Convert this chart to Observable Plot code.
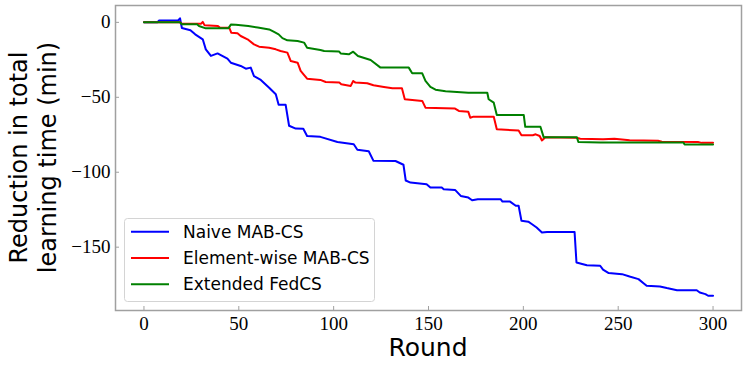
<!DOCTYPE html>
<html><head><meta charset="utf-8">
<script src="https://cdn.jsdelivr.net/npm/d3@7"></script>
<script src="https://cdn.jsdelivr.net/npm/@observablehq/plot@0.6"></script>
<style>body{margin:0;background:#fff}</style>
</head><body><div id="chart"></div>
<script>
const seriesNames = ["Naive MAB-CS", "Element-wise MAB-CS", "Extended FedCS"];
const seriesColors = ["#0000ff", "#ff0000", "#008000"];

const naive = [[0,0],[7,0],[8,1.3],[18,1.3],[19,2.7],[20,-3.8],[24.5,-5.2],[27,-8],[31,-11.3],[32.6,-18],[35.3,-22.4],[38.8,-20.7],[44,-24.2],[45.8,-26.9],[51,-29.1],[53.7,-30.9],[56.3,-30.2],[58,-35.8],[61.6,-38.4],[66,-43.6],[69.5,-48],[71,-55],[74.7,-55],[76.5,-69],[80,-70.9],[84,-71],[86,-75.8],[93,-76.4],[102,-79.8],[110.6,-81.3],[112.5,-85],[118.5,-86],[121,-92.4],[132.6,-92.5],[136.8,-95],[138,-105.5],[140.5,-106.9],[149,-108],[151,-110.2],[157,-110.2],[158,-111.3],[164,-111.8],[167,-115.8],[171,-116.9],[173,-118.7],[176,-118],[188,-118],[189,-119.6],[193,-119.6],[196,-122.4],[197.5,-122.4],[199,-132.4],[202.6,-133],[204.6,-134.7],[207,-136.9],[209.8,-140.2],[212.5,-139.8],[227,-139.8],[228,-160.2],[233.5,-162],[240.5,-162.4],[242,-165],[245,-167.3],[252,-168],[256,-169.6],[260.7,-171.3],[264,-174.7],[265,-175.8],[272,-176.2],[275.6,-177.3],[281,-178.7],[291.4,-178.7],[293,-180.2],[296,-181.3],[297.4,-182.4],[300,-182.4]];

const elementwise = [[0,0],[19,0],[20,-1],[30,-1],[31,0.3],[32,-2],[39,-2.5],[40,-3.5],[45,-3.6],[46,-6.9],[49.3,-7.3],[51,-9.1],[54.6,-11.3],[58,-14.7],[60.7,-16.2],[66,-16.9],[69.5,-18],[72,-19.1],[75.6,-20.2],[77.4,-25.8],[81,-26.9],[82.6,-32.4],[86,-37.6],[93,-38.4],[95.8,-39.8],[103,-40.2],[104,-41.3],[109,-42.4],[110.3,-39.1],[111.5,-40.2],[117.7,-40.6],[121,-42],[126.5,-43.1],[131,-44],[136,-44],[137.5,-51.3],[146.7,-52.4],[148.4,-56.9],[164,-57.5],[166,-59.1],[171,-59.7],[172,-63.6],[173.7,-62.9],[184.4,-63],[186,-71.3],[197.5,-72.2],[199,-75.3],[205,-75.3],[206.5,-74.7],[208.6,-75.8],[209.8,-78.8],[211.6,-76.6],[228,-77],[230,-77.6],[242,-78],[248,-77.6],[256,-78.7],[271,-79],[273,-79.6],[292,-79.8],[294,-80.4],[300,-80.4]];

const fedcs = [[0,0],[19,0],[20,-1.3],[28,-1.3],[29,-2.4],[32.6,-4],[44.5,-4],[45.8,-1.5],[48.4,-1.6],[55,-2.5],[60,-3.5],[66,-4.7],[68.6,-6.4],[71,-8],[73,-10.5],[75.6,-12],[81,-12.4],[84.4,-13.5],[86,-16.9],[93,-18.4],[95,-19.1],[102.8,-19.4],[103.7,-20.7],[108,-21.3],[110.3,-19.6],[112.8,-22.4],[119.5,-25.1],[124.7,-30.2],[139.6,-30.2],[141.4,-34],[146.7,-34],[148.4,-39.1],[151,-43],[153.7,-44.9],[159,-45.9],[171,-46.9],[181,-47],[181.7,-51.3],[184.4,-53.6],[186,-61.8],[200.2,-61.8],[201,-69.7],[209,-69.7],[210.7,-76.6],[228.2,-76.6],[229,-79.8],[240.5,-80.2],[284.4,-80.2],[285,-81.5],[300,-81.5]];

const xTicks = [0, 50, 100, 150, 200, 250, 300];
const yTicks = [0, -50, -100, -150];
const xLabel = "Round";
const yLabelLines = ["Reduction in total", "learning time (min)"];

const rows = [];
[naive, elementwise, fedcs].forEach((s, i) => s.forEach(([x, y]) => rows.push({x, y, series: seriesNames[i]})));

const W = 747, H = 368, mL = 115, mR = 6, mT = 5, mB = 58;
const frameColor = "#a0a0a0";
const serif = "'Liberation Serif', 'DejaVu Serif', serif";
const sans = "'DejaVu Sans', sans-serif";

const chart = Plot.plot({
  width: W, height: H,
  marginLeft: mL, marginRight: mR, marginTop: mT, marginBottom: mB,
  x: {domain: [-15, 315]},
  y: {domain: [-192.25, 11.25]},
  color: {domain: seriesNames, range: seriesColors},
  style: {background: "#fff", overflow: "visible"},
  marks: [
    Plot.line(rows, {x: "x", y: "y", z: "series", stroke: "series", strokeWidth: 2, strokeLinejoin: "round"}),
    Plot.frame({stroke: frameColor, strokeWidth: 1.5}),
    Plot.axisX({ticks: xTicks, tickSize: 0, tickPadding: 6, label: null, fontFamily: serif, fontSize: 19}),
    Plot.axisX({ticks: xTicks, tickSize: -4, tickFormat: () => "", label: null, stroke: frameColor}),
    Plot.axisY({ticks: yTicks, tickSize: 0, tickPadding: 5, label: null, fontFamily: serif, fontSize: 19}),
    Plot.axisY({ticks: yTicks, tickSize: -4, tickFormat: () => "", label: null, stroke: frameColor})
  ]
});
document.getElementById("chart").appendChild(chart);

const svg = d3.select(chart);
// x label
svg.append("text").attr("x", (mL + W - mR) / 2).attr("y", 356)
  .attr("text-anchor", "middle").attr("font-family", sans).attr("font-size", 25)
  .attr("fill", "#000").text(xLabel);
// y label (two lines)
const yMid = (mT + H - mB) / 2;
yLabelLines.forEach((t, i) => {
  svg.append("text").attr("transform", `translate(${27 + i * 29},${yMid}) rotate(-90)`)
    .attr("text-anchor", "middle").attr("font-family", sans).attr("font-size", 24)
    .attr("fill", "#000").text(t);
});
// legend
const lg = svg.append("g").attr("text-anchor", "start");
lg.append("rect").attr("x", 124.5).attr("y", 218.5).attr("width", 250).attr("height", 83)
  .attr("rx", 3).attr("fill", "#fff").attr("fill-opacity", 0.85).attr("stroke", "#d4d4d4");
seriesNames.forEach((name, i) => {
  const yy = 231.7 + i * 26.3;
  lg.append("line").attr("x1", 131).attr("x2", 169).attr("y1", yy).attr("y2", yy)
    .attr("stroke", seriesColors[i]).attr("stroke-width", 2);
  lg.append("text").attr("x", 183).attr("y", yy).attr("dy", "0.36em")
    .attr("text-anchor", "start")
    .attr("font-family", sans).attr("font-size", 17).attr("fill", "#000").text(name);
});
</script>
</body></html>
